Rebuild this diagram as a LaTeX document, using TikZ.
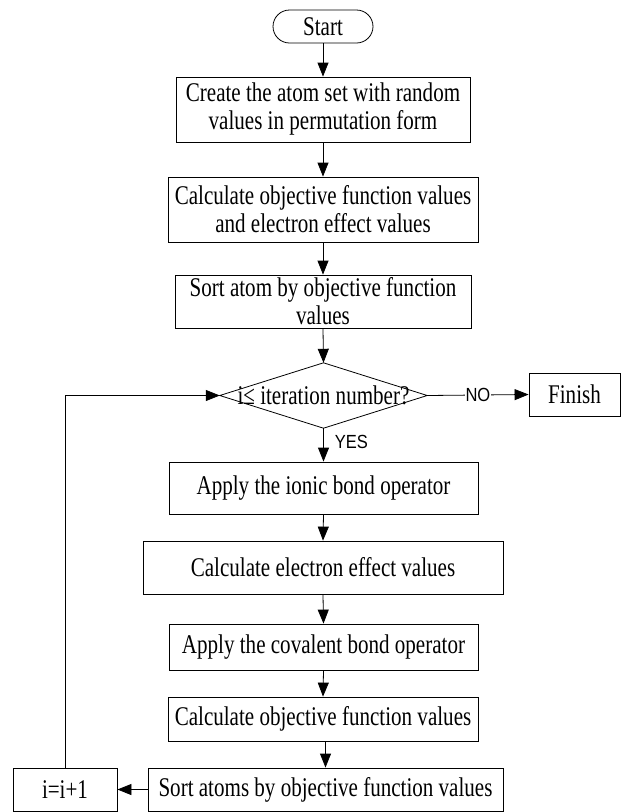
\documentclass[tikz,border=0pt]{standalone}
\usepackage{fontspec}
\setmainfont[FakeStretch=0.78]{Liberation Serif}
\newfontfamily\lsans[FakeStretch=0.87]{Liberation Sans}
\usetikzlibrary{arrows.meta}
\begin{document}
\begin{tikzpicture}[x=1pt,y=-1pt,
  every node/.style={font=\fontsize{27}{28}\selectfont, align=center, inner sep=0pt},
  box/.style={draw, line width=0.8pt, rectangle},
  arr/.style={line width=0.8pt, -{Triangle[length=14pt,width=11pt]}},
  lbl/.style={font=\lsans\fontsize{19}{19}\selectfont}
]
\useasboundingbox (0,0) rectangle (622,812);
\node[box, rounded corners=16.5pt, minimum width=100pt, minimum height=33pt] (start) at (323,26.5) {Start};
\node[box, minimum width=294pt, minimum height=65pt] (b1) at (323,109.5) {Create the atom set with random\\values in permutation form};
\node[box, minimum width=310pt, minimum height=65pt] (b2) at (323,209.5) {Calculate objective function values\\and electron effect values};
\node[box, minimum width=296pt, minimum height=53pt] (b3) at (323,301.5) {Sort atom by objective function\\values};
\node[minimum width=207pt, minimum height=65pt] (dec) at (323.5,395.5) {i≤ iteration number?};
\draw[line width=0.8pt] (dec.north) -- (dec.east) -- (dec.south) -- (dec.west) -- cycle;
\node[box, minimum width=91pt, minimum height=43pt] (fin) at (574.5,394.5) {Finish};
\node[box, minimum width=309pt, minimum height=52pt] (b4) at (323.5,488) {Apply the ionic bond operator};
\node[box, minimum width=360pt, minimum height=53pt] (b5) at (323,567.5) {Calculate electron effect values};
\node[box, minimum width=309pt, minimum height=46pt] (b6) at (323.5,647) {Apply the covalent bond operator};
\node[box, minimum width=310pt, minimum height=44pt] (b7) at (323,719) {Calculate objective function values};
\node[box, minimum width=355pt, minimum height=43pt] (b8) at (325.5,789.5) {Sort atoms by objective function values};
\node[box, minimum width=104pt, minimum height=43pt] (inc) at (65,789.5) {i=i+1};
\draw[arr] (start.south) -- (b1.north);
\draw[arr] (b1.south) -- (b2.north);
\draw[arr] (b2.south) -- (b3.north);
\draw[arr] (b3.south) -- (dec.north);
\draw[arr] (dec.east) -- node[lbl, fill=white, inner sep=1pt] {NO} (fin.west);
\draw[arr] (dec.south) -- node[lbl, right=11pt, pos=0.4] {YES} (b4.north);
\draw[arr] (b4.south) -- (b5.north);
\draw[arr] (b5.south) -- (b6.north);
\draw[arr] (b6.south) -- (b7.north);
\draw[arr] (b7.south -| b8.north) -- (b8.north);
\draw[arr] (b8.west) -- (inc.east);
\draw[arr] (inc.north) |- (dec.west);
\end{tikzpicture}
\end{document}
